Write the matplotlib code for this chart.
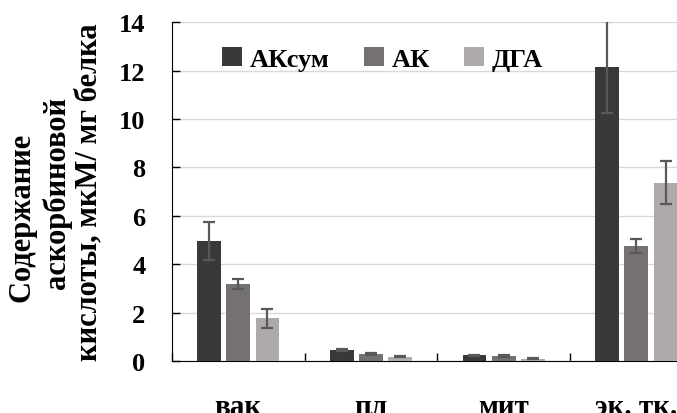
import numpy as np
import matplotlib
matplotlib.use('Agg')
import matplotlib.pyplot as plt

plt.rcParams['font.family'] = ['Liberation Serif', 'DejaVu Serif']
plt.rcParams['font.weight'] = 'bold'

categories = ['вак', 'пл', 'мит', 'эк. тк.']
series = ['АКсум', 'АК', 'ДГА']
ak_sum = [4.97, 0.45, 0.23, 12.13]
ak = [3.18, 0.29, 0.20, 4.76]
dga = [1.76, 0.17, 0.10, 7.37]
ak_sum_err = [0.78, 0.04, 0.03, 1.9]
ak_err = [0.2, 0.03, 0.03, 0.3]
dga_err = [0.4, 0.02, 0.02, 0.9]
colors = ['#3b3838', '#767171', '#aeaaaa']

fig = plt.figure(figsize=(6.77, 4.14), dpi=100)
ax = fig.add_axes([0.254, 0.1256, 0.784, 0.8185])

x = np.arange(len(categories))
w = 0.18
step = 0.22
vals = [ak_sum, ak, dga]
errs = [ak_sum_err, ak_err, dga_err]
for i in range(3):
    ax.bar(x + (i - 1) * step, vals[i], w, color=colors[i], label=series[i],
           yerr=errs[i], error_kw=dict(ecolor='#595959', elinewidth=1.6,
                                       capsize=4, capthick=1.6), zorder=3)

ax.set_ylim(0, 14)
ax.set_xlim(-0.5, 3.5)
ax.set_yticks(range(0, 15, 2))
ax.yaxis.grid(True, color='#d9d9d9', lw=1, zorder=0)
ax.set_axisbelow(True)
ax.tick_params(axis='y', direction='in', length=6, width=1, pad=19, labelsize=19)
ax.set_xticks(x)
ax.set_xticklabels(categories)
ax.tick_params(axis='x', length=0, pad=23, labelsize=21)
ax.set_xticks(np.arange(-0.5, 4, 1), minor=True)
ax.tick_params(axis='x', which='minor', direction='in', length=6, width=1)
for s in ['top', 'right']:
    ax.spines[s].set_visible(False)
ax.spines['left'].set_color('black')
ax.spines['bottom'].set_color('black')

ax.set_ylabel('Содержание' + ' ' * 7 + '\nаскорбиновой\nкислоты, мкМ/ мг белка',
              fontsize=22, fontweight='bold', labelpad=11, linespacing=1.14)

ax.legend(loc='upper left', bbox_to_anchor=(0.05, 0.997), ncol=3, frameon=False,
          prop={'size': 19, 'weight': 'bold'}, handlelength=0.75, handleheight=0.75,
          handletextpad=0.3, columnspacing=1.3)

fig.savefig('out.png', dpi=100)
